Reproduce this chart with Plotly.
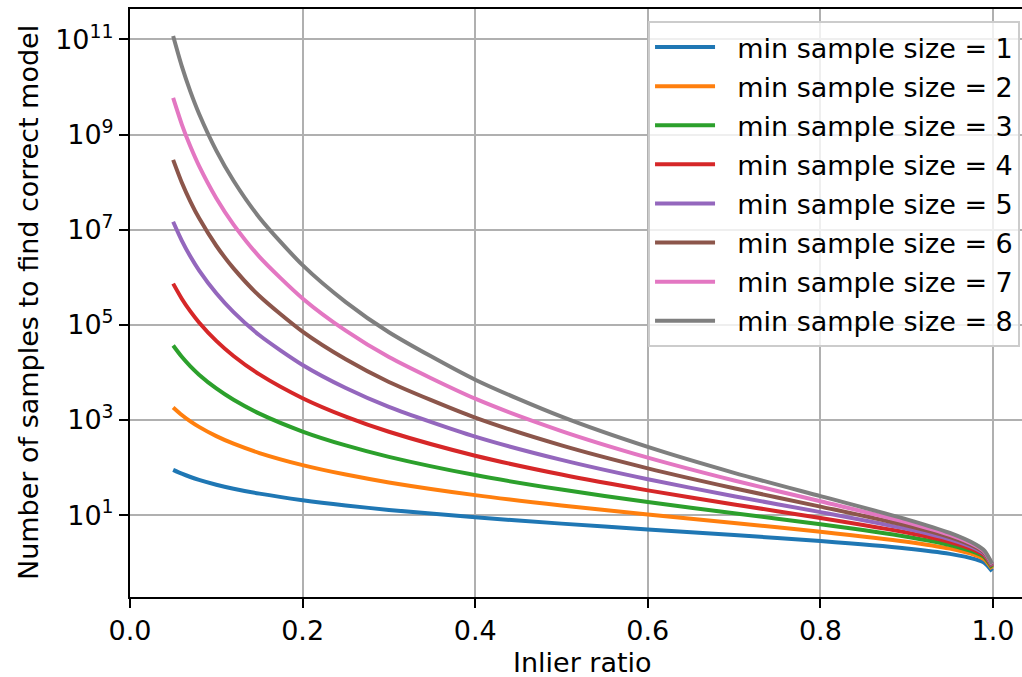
import plotly.graph_objects as go

# Inlier ratio (x) and number of samples needed (y) for each min sample size
inlier_ratio = [0.05, 0.06, 0.07, 0.08, 0.10, 0.12, 0.15, 0.20, 0.25, 0.30, 0.40,
                0.50, 0.60, 0.70, 0.80, 0.90, 0.95, 0.98, 0.99, 0.999]

samples_s1 = [89.78, 74.43, 63.46, 55.23, 43.71, 36.02, 28.34, 20.64, 16.01, 12.91, 9.015,
              6.644, 5.026, 3.825, 2.861, 2.000, 1.537, 1.177, 1.000, 0.667]
samples_s2 = [1839.8, 1276.9, 937.5, 717.2, 458.2, 317.5, 202.4, 112.8, 71.36, 48.83, 26.41,
              16.01, 10.32, 6.839, 4.508, 2.773, 1.978, 1.426, 1.176, 0.741]
samples_s3 = [36839, 21318, 13424, 8992, 4603, 2662.7, 1362.2, 573.3, 292.4, 168.3, 69.63,
              34.49, 18.92, 10.96, 6.419, 3.527, 2.365, 1.625, 1.310, 0.793]
samples_s4 = [736827, 355335, 191802, 112431, 46049, 22206, 9094.4, 2875.9, 1176.6, 566.2, 177.58,
              71.36, 33.18, 16.77, 8.739, 4.314, 2.733, 1.802, 1.424, 0.834]
samples_s5 = [14736544, 5922287, 2740031, 1405387, 460515, 185071, 60641, 14389, 4713.4, 1892.8, 447.4,
              145.05, 56.89, 25.03, 11.60, 5.158, 3.098, 1.966, 1.527, 0.869]
samples_s6 = [2.94731e8, 9.87048e7, 3.91433e7, 1.75673e7, 4.60517e6, 1.54226e6, 404296, 71955, 18860.6, 6314.8, 1122.0,
              292.4, 96.38, 36.79, 15.15, 6.074, 3.467, 2.122, 1.622, 0.900]
samples_s7 = [5.89462e9, 1.64508e9, 5.59190e8, 2.19591e8, 4.60517e7, 1.28522e7, 2.69529e6, 359776, 75450, 21055, 2808.5,
              587.2, 162.2, 53.58, 19.57, 7.077, 3.843, 2.273, 1.712, 0.928]
samples_s8 = [1.17892e11, 2.74180e10, 7.98843e9, 2.74489e9, 4.60517e8, 1.07102e8, 1.79687e7, 1.79889e6, 301804, 70188, 7024.6,
              1176.6, 271.9, 77.56, 25.08, 8.181, 4.229, 2.421, 1.798, 0.953]

series_names = ["min sample size = %d" % s for s in range(1, 9)]
series_values = [samples_s1, samples_s2, samples_s3, samples_s4,
                 samples_s5, samples_s6, samples_s7, samples_s8]
colors = ["#1f77b4", "#ff7f0e", "#2ca02c", "#d62728",
          "#9467bd", "#8c564b", "#e377c2", "#7f7f7f"]

y_tick_vals = [1e1, 1e3, 1e5, 1e7, 1e9, 1e11]
y_tick_text = ["10<sup>1</sup>", "10<sup>3</sup>", "10<sup>5</sup>",
               "10<sup>7</sup>", "10<sup>9</sup>", "10<sup>11</sup>"]
x_tick_vals = [0.0, 0.2, 0.4, 0.6, 0.8, 1.0]
x_tick_text = ["0.0", "0.2", "0.4", "0.6", "0.8", "1.0"]

FONT = "DejaVu Sans"
FS = 27

fig = go.Figure()
for i, (name, vals) in enumerate(zip(series_names, series_values)):
    fig.add_trace(go.Scatter(
        x=inlier_ratio, y=vals, mode="lines",
        name="\u00a0\u00a0" + name,
        legendgroup="g%d" % i,
        line=dict(color=colors[i], width=4, shape="spline", smoothing=0.7),
    ))

fig.update_layout(
    width=1022, height=677,
    margin=dict(l=130, r=0, t=9, b=80),
    paper_bgcolor="white", plot_bgcolor="white",
    font=dict(family=FONT, size=FS, color="black"),
    showlegend=True,
    legend=dict(
        x=0.9978, xanchor="right", y=0.9796, yanchor="top",
        bgcolor="rgba(255,255,255,0.8)", bordercolor="#cccccc", borderwidth=2,
        font=dict(family=FONT, size=FS, color="black"),
        tracegroupgap=1, itemwidth=60,
    ),
    xaxis=dict(
        range=[0, 1.0336], tickvals=x_tick_vals, ticktext=x_tick_text,
        showgrid=True, gridcolor="#b0b0b0", gridwidth=2,
        showline=True, linecolor="black", linewidth=2, mirror=True,
        ticks="outside", ticklen=9, tickwidth=2, tickcolor="black",
        zeroline=False, tickfont=dict(family=FONT, size=FS),
    ),
    yaxis=dict(
        type="log", range=[-0.72, 11.64], tickvals=y_tick_vals, ticktext=y_tick_text,
        showgrid=True, gridcolor="#b0b0b0", gridwidth=2,
        showline=True, linecolor="black", linewidth=2, mirror=False,
        ticks="outside", ticklen=9, tickwidth=2, tickcolor="black",
        zeroline=False, tickfont=dict(family=FONT, size=FS),
    ),
    annotations=[
        dict(text="Inlier ratio", xref="paper", yref="paper", x=0.507, y=0,
             xanchor="center", yanchor="middle", yshift=-65, showarrow=False,
             font=dict(family=FONT, size=FS)),
        dict(text="Number of samples to find correct model", xref="paper", yref="paper",
             x=0, y=0.5, xanchor="center", yanchor="middle", xshift=-102, textangle=-90,
             showarrow=False, font=dict(family=FONT, size=FS)),
    ],
)

fig.write_html("out.html")
